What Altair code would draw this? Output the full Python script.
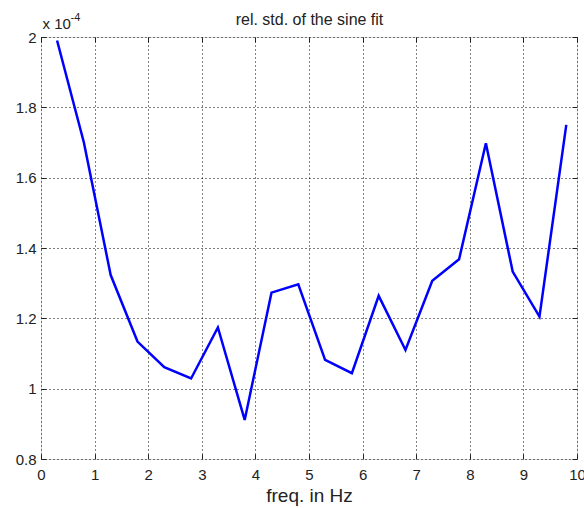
import altair as alt
import pandas as pd

# data (values in units of 1e-4)
freq = [0.3, 0.8, 1.3, 1.8, 2.3, 2.8, 3.3, 3.8, 4.3, 4.8,
        5.3, 5.8, 6.3, 6.8, 7.3, 7.8, 8.3, 8.8, 9.3, 9.8]
rel_std = [1.99, 1.70, 1.323, 1.134, 1.061, 1.029, 1.174, 0.911, 1.273, 1.297,
           1.082, 1.044, 1.264, 1.110, 1.307, 1.368, 1.698, 1.333, 1.205, 1.75]
x_ticks = [0, 1, 2, 3, 4, 5, 6, 7, 8, 9, 10]
y_ticks = [0.8, 1.0, 1.2, 1.4, 1.6, 1.8, 2.0]
title_text = "rel. std. of the sine fit"

df = pd.DataFrame({"freq": freq, "rel_std": rel_std})

FONT = "Liberation Sans"
xs = alt.Scale(domain=[0, 10], nice=False, zero=False)
ys = alt.Scale(domain=[0.8, 2.0], nice=False, zero=False)

base = alt.Chart(df)

main = base.mark_line(color="#0000ff", strokeWidth=2.5, strokeJoin="miter").encode(
    x=alt.X("freq:Q", scale=xs,
            axis=alt.Axis(orient="bottom", values=x_ticks, ticks=False, domain=False,
                          grid=True, gridDash=[1, 3], gridColor="#000", gridOpacity=1,
                          labelFont=FONT, labelFontSize=15, labelColor="#222",
                          labelPadding=8, labelFlush=False, format="~f",
                          title="freq. in Hz", titleFont=FONT, titleFontSize=19,
                          titleFontWeight="normal", titleColor="#222",
                          titleBaseline="alphabetic", titleY=42)),
    y=alt.Y("rel_std:Q", scale=ys,
            axis=alt.Axis(orient="left", values=y_ticks, ticks=False, domain=False,
                          grid=True, gridDash=[1, 3], gridColor="#000", gridOpacity=1,
                          labelFont=FONT, labelFontSize=15, labelColor="#222",
                          labelPadding=5, labelFlush=False, format="~f",
                          title="x 10", titleAngle=0, titleAlign="left",
                          titleBaseline="alphabetic", titleX=1, titleY=-9,
                          titleFont=FONT, titleFontSize=15, titleFontWeight="normal",
                          titleColor="#222")),
)

inner1 = base.mark_line(opacity=0).encode(
    x=alt.X("freq:Q", scale=xs,
            axis=alt.Axis(orient="bottom", values=x_ticks, labels=False, domain=False,
                          grid=False, tickSize=5, offset=-5, tickColor="#222", title=None)),
    y=alt.Y("rel_std:Q", scale=ys,
            axis=alt.Axis(orient="left", values=y_ticks, labels=False, domain=False,
                          grid=False, tickSize=5, offset=-5, tickColor="#222",
                          title="-4", titleAngle=0, titleAlign="left",
                          titleBaseline="alphabetic", titleX=24, titleY=-17,
                          titleFont=FONT, titleFontSize=11, titleFontWeight="normal",
                          titleColor="#222")),
)

inner2 = base.mark_line(opacity=0).encode(
    x=alt.X("freq:Q", scale=xs,
            axis=alt.Axis(orient="top", values=x_ticks, labels=False, domain=False,
                          grid=False, tickSize=5, offset=-5, tickColor="#222",
                          title=title_text, titleFont=FONT, titleFontSize=16,
                          titleFontWeight="normal", titleColor="#222",
                          titleBaseline="alphabetic", titleY=-18)),
    y=alt.Y("rel_std:Q", scale=ys,
            axis=alt.Axis(orient="right", values=y_ticks, labels=False, domain=False,
                          grid=False, tickSize=5, offset=-5, tickColor="#222", title=None)),
)

chart = alt.layer(main, inner1, inner2).resolve_axis(
    x="independent", y="independent"
).properties(
    width=536, height=422,
    autosize=alt.AutoSizeParams(type="none"),
    padding={"left": 41, "top": 37, "right": 7, "bottom": 49},
).configure_view(stroke="#333", strokeWidth=1).configure(background="white")

chart.save("out.html", embed_options={"renderer": "svg", "actions": False})
